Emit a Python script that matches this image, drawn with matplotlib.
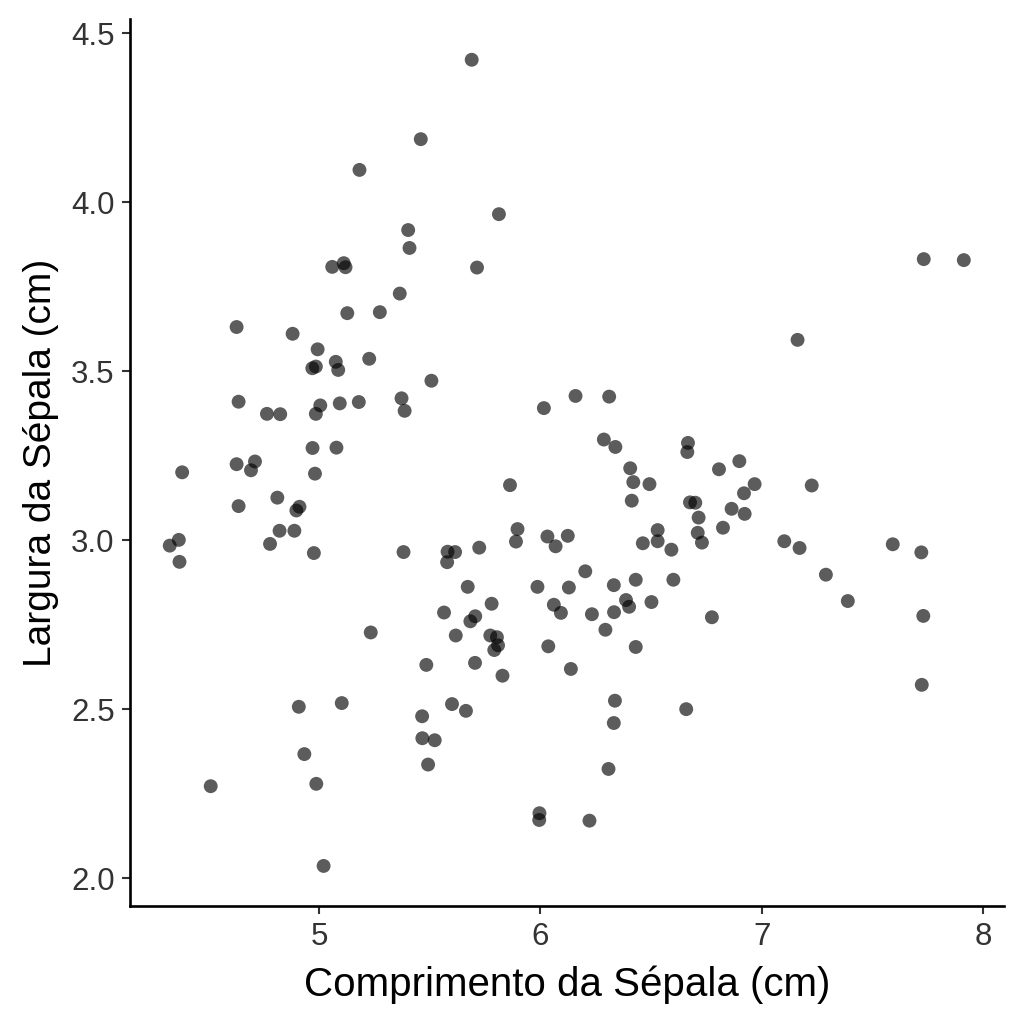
import numpy as np
import matplotlib
matplotlib.use("Agg")
import matplotlib.pyplot as plt

# comprimento / largura da sepala (valores com jitter)
sepal_length = [
    5.060, 5.112, 5.120, 5.409, 5.365, 5.128, 5.275, 4.628, 4.881, 4.994,
    4.970, 4.986, 5.076, 5.087, 5.227, 5.508, 4.637, 4.765, 4.825, 5.006,
    4.986, 5.094, 5.180, 5.373, 5.387, 4.971, 5.079, 4.382, 4.628, 4.711,
    4.693, 4.982, 4.812, 4.637, 4.912, 4.898, 4.822, 4.889, 4.367, 4.326,
    4.779, 4.370, 4.977, 5.382, 5.581, 5.615, 5.579, 5.565, 5.234, 5.618,
    5.485, 4.909, 5.103, 5.466, 5.601, 5.467, 5.523, 4.934, 5.493, 4.511,
    4.988, 5.021, 6.159, 6.311, 6.016, 6.287, 6.339, 6.667, 6.664, 6.807,
    6.406, 6.420, 6.493, 6.413, 5.863, 6.676, 6.700, 6.715, 6.825, 6.711,
    6.730, 6.530, 6.530, 6.463, 6.592, 5.897, 5.890, 6.032, 6.124, 6.069,
    5.724, 6.203, 5.672, 5.987, 6.129, 6.332, 6.431, 6.601, 5.780, 6.061,
    6.093, 6.233, 6.333, 6.387, 6.401, 6.502, 6.775, 5.706, 5.684, 5.774,
    5.804, 5.809, 5.792, 6.036, 6.294, 6.431, 5.705, 6.138, 5.829, 6.337,
    6.659, 5.664, 6.332, 6.308, 5.996, 5.995, 6.222, 6.899, 6.968, 6.920,
    7.226, 6.864, 6.923, 7.102, 7.171, 7.592, 7.721, 7.290, 7.389, 7.730,
    7.723, 5.690, 5.460, 5.183, 5.813, 5.403, 5.714, 7.732, 7.913, 7.162,
]
sepal_width = [
    3.809, 3.820, 3.808, 3.865, 3.730, 3.672, 3.675, 3.631, 3.611, 3.565,
    3.509, 3.514, 3.528, 3.504, 3.537, 3.472, 3.410, 3.374, 3.373, 3.399,
    3.374, 3.405, 3.409, 3.420, 3.383, 3.273, 3.274, 3.201, 3.225, 3.233,
    3.207, 3.197, 3.126, 3.101, 3.099, 3.088, 3.028, 3.028, 3.001, 2.984,
    2.989, 2.936, 2.962, 2.965, 2.966, 2.965, 2.935, 2.786, 2.727, 2.718,
    2.631, 2.507, 2.518, 2.479, 2.515, 2.414, 2.408, 2.367, 2.336, 2.272,
    2.279, 2.036, 3.427, 3.425, 3.391, 3.298, 3.276, 3.288, 3.261, 3.210,
    3.213, 3.172, 3.166, 3.117, 3.163, 3.112, 3.111, 3.067, 3.037, 3.022,
    2.993, 3.030, 2.997, 2.991, 2.972, 3.033, 2.996, 3.011, 3.013, 2.982,
    2.978, 2.908, 2.862, 2.862, 2.860, 2.867, 2.883, 2.883, 2.812, 2.809,
    2.785, 2.781, 2.787, 2.823, 2.803, 2.817, 2.772, 2.775, 2.760, 2.718,
    2.713, 2.689, 2.675, 2.686, 2.735, 2.684, 2.637, 2.619, 2.599, 2.525,
    2.500, 2.495, 2.459, 2.323, 2.192, 2.172, 2.170, 3.234, 3.166, 3.139,
    3.162, 3.093, 3.078, 2.997, 2.977, 2.988, 2.964, 2.898, 2.820, 2.776,
    2.572, 4.422, 4.187, 4.096, 3.965, 3.918, 3.807, 3.832, 3.829, 3.593,
]

x_ticks = [5, 6, 7, 8]
y_ticks = [2.0, 2.5, 3.0, 3.5, 4.0, 4.5]
y_tick_labels = ["2.0", "2.5", "3.0", "3.5", "4.0", "4.5"]

plt.rcParams['font.family'] = ['Liberation Sans', 'DejaVu Sans']

fig = plt.figure(figsize=(10.24, 10.24), dpi=100)
ax = fig.add_axes([0.127, 0.115, 0.853, 0.866])

ax.scatter(sepal_length, sepal_width, s=100, c='black', alpha=0.64,
           edgecolors='none')

# expansao de 5% como no ggplot
x = np.array(sepal_length)
y = np.array(sepal_width)
xr = x.max() - x.min()
yr = y.max() - y.min()
ax.set_xlim(x.min() - 0.05 * xr, x.max() + 0.05 * xr)
ax.set_ylim(y.min() - 0.05 * yr, y.max() + 0.05 * yr)

ax.set_xticks(x_ticks)
ax.set_yticks(y_ticks)
ax.set_yticklabels(y_tick_labels)

for s in ['top', 'right']:
    ax.spines[s].set_visible(False)
for s in ['left', 'bottom']:
    ax.spines[s].set_linewidth(1.9)
    ax.spines[s].set_color('black')

ax.tick_params(axis='both', length=6, width=1.5, color='#333333',
               labelsize=22.5, labelcolor='#333333', pad=5)

ax.set_xlabel('Comprimento da Sépala (cm)', fontsize=29, labelpad=10)
ax.set_ylabel('Largura da Sépala (cm)', fontsize=28, labelpad=9)

fig.savefig('out.png', dpi=100)
